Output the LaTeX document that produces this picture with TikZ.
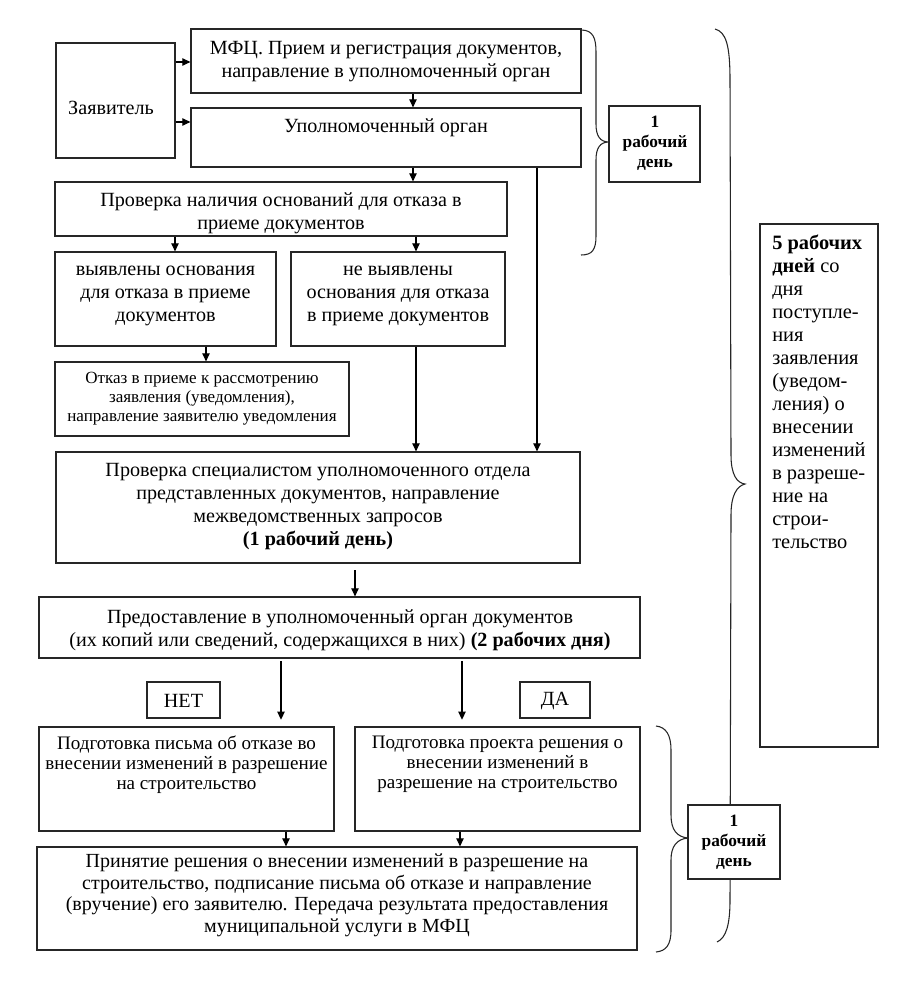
\documentclass[tikz,border=0pt]{standalone}
\usepackage{fontspec}
\setmainfont{Liberation Serif}
\usetikzlibrary{fit,arrows.meta}
\newcommand\mainsz{\fontsize{15.1}{17.3}\selectfont}
\newcommand\smallsz{\fontsize{12.8}{14.3}\selectfont}
\newcommand\podgsz{\fontsize{14.3}{15}\selectfont}
\newcommand\prinsz{\fontsize{15}{16.1}\selectfont}
\newcommand\daysz{\fontsize{13}{15}\selectfont\bfseries}
\newcommand\fivesz{\fontsize{15.3}{17.25}\selectfont}
\begin{document}
\begin{tikzpicture}[x=0.75pt,y=-0.75pt]
\tikzset{
 box/.style={draw=black!85, line width=0.9pt, fill=white, inner sep=0pt},
 arr/.style={draw=black, line width=0.8pt, -{Triangle[length=6pt,width=5.5pt]}},
 txt/.style={inner sep=0pt, align=center},
 brace/.style={draw=black!85, line width=0.8pt},
}
\useasboundingbox[fill=white] (0,0) rectangle (905,991);

% braces
\draw[brace] (581,30) .. controls (593,30) and (596,38) .. (596,52) -- (596,124) .. controls (596,136) and (600,142) .. (609,142) .. controls (600,142) and (596,148) .. (596,160) -- (596,236) .. controls (596,250) and (592,255) .. (581,255);
\draw[brace] (715,29) .. controls (726,32) and (730,45) .. (730,80) -- (731,455) .. controls (731,475) and (737,483) .. (745,484) .. controls (737,486) and (731,495) .. (731,515) -- (730,900) .. controls (730,925) and (726,938) .. (717,942);
\draw[brace] (656,726) .. controls (666,727) and (671,735) .. (671,750) -- (671,815) .. controls (671,830) and (677,837) .. (688,838) .. controls (677,839) and (671,846) .. (671,860) -- (671,930) .. controls (671,945) and (666,951) .. (656,952);

% boxes
\node[box, fit={(56,43) (175,158)}] (zay) {};
\node[box, fit={(191,29) (581,93)}] (mfc) {};
\node[box, fit={(191,108) (581,167)}] (upo) {};
\node[box, fit={(55,182) (507,236)}] (prov) {};
\node[box, fit={(55,252) (276,346)}] (vyy) {};
\node[box, fit={(291,252) (505,346)}] (nevyy) {};
\node[box, fit={(55,362) (349,436)}] (otkaz) {};
\node[box, fit={(56,452) (580,563)}] (spec) {};
\node[box, fit={(39,597) (640,658)}] (pred) {};
\node[box, fit={(147,682) (220,718)}] (net) {};
\node[box, fit={(520,682) (590,718)}] (da) {};
\node[box, fit={(39,727) (334,831)}] (podga) {};
\node[box, fit={(355,727) (640,831)}] (podgb) {};
\node[box, fit={(37,847) (637,950)}] (prin) {};
\node[box, fit={(609,106) (700,182)}] (daya) {};
\node[box, fit={(760,224) (878,747)}] (five) {};
\node[box, fit={(688,805) (780,879)}] (dayb) {};

% texts
\node[txt, font=\mainsz] (zayt) at (111,108) {Заявитель};
\node[txt, font=\mainsz] (mfct) at (386,62) {МФЦ. Прием и регистрация документов,\\направление в уполномоченный орган};
\node[txt, font=\mainsz] (upot) at (386,128) {Уполномоченный орган};
\node[txt, font=\mainsz] (provt) at (281,213) {Проверка наличия оснований для отказа в\\приеме документов};
\node[txt, font=\mainsz] (vyyt) at (165.5,296) {выявлены основания\\для отказа в приеме\\документов};
\node[txt, font=\mainsz] (nevyyt) at (398,296) {не выявлены\\основания для отказа\\в приеме документов};
\node[txt, font=\smallsz] (otkazt) at (202,399) {Отказ в приеме к рассмотрению\\заявления (уведомления),\\направление заявителю уведомления};
\node[txt, font=\mainsz] (spect) at (318,506.5) {Проверка специалистом уполномоченного отдела\\представленных документов, направление\\межведомственных запросов\\\textbf{(1 рабочий день)}};
\node[txt, font=\mainsz] (predt) at (340,630) {Предоставление в уполномоченный орган документов\\(их копий или сведений, содержащихся в них) \textbf{(2 рабочих дня)}};
\node[txt, font=\mainsz] (nett) at (183.5,701) {НЕТ};
\node[txt, font=\mainsz] (dat) at (555,701) {ДА};
\node[txt, font=\podgsz] (podgat) at (186.5,764.5) {Подготовка письма об отказе во\\внесении изменений в разрешение\\на строительство};
\node[txt, font=\podgsz] (podgbt) at (497.5,764.5) {Подготовка проекта решения о\\внесении изменений в\\разрешение на строительство};
\node[txt, font=\prinsz] (print) at (337,895.5) {Принятие решения о внесении изменений в разрешение на\\строительство, подписание письма об отказе и направление\\(вручение) его заявителю. Передача результата предоставления\\муниципальной услуги в МФЦ};
\node[txt, font=\daysz] (dayat) at (655,143) {1\\рабочий\\день};
\node[txt, font=\fivesz, align=left, anchor=west] (fivet) at (772,392) {\textbf{5 рабочих}\\\textbf{дней} со\\дня\\поступле-\\ния\\заявления\\(уведом-\\ления) о\\внесении\\изменений\\в разреше-\\ние на\\строи-\\тельство};
\node[txt, font=\daysz] (daybt) at (734,842) {1\\рабочий\\день};

% helper coordinates
\coordinate (ya) at (0,62);
\coordinate (yb) at (0,122);
\coordinate (xa) at (413,0);
\coordinate (xr) at (537,0);
\coordinate (xb) at (175,0);
\coordinate (xc) at (416,0);
\coordinate (xd) at (206,0);
\coordinate (xe) at (355,0);
\coordinate (xf) at (281,0);
\coordinate (xg) at (462,0);
\coordinate (xh) at (286,0);
\coordinate (xi) at (460,0);

% connectors
\draw[arr] (zay.east|-ya) -- (mfc.west|-ya);
\draw[arr] (zay.east|-yb) -- (upo.west|-yb);
\draw[arr] (mfc.south-|xa) -- (upo.north-|xa);
\draw[arr] (upo.south-|xa) -- (prov.north-|xa);
\draw[arr] (upo.south-|xr) -- (spec.north-|xr);
\draw[arr] (prov.south-|xb) -- (vyy.north-|xb);
\draw[arr] (prov.south-|xc) -- (nevyy.north-|xc);
\draw[arr] (vyy.south-|xd) -- (otkaz.north-|xd);
\draw[arr] (nevyy.south-|xc) -- (spec.north-|xc);
\draw[arr, shorten <=5pt] (spec.south-|xe) -- (pred.north-|xe);
\draw[arr, shorten <=2pt, shorten >=5pt] (pred.south-|xf) -- (podga.north-|xf);
\draw[arr, shorten <=2pt, shorten >=5pt] (pred.south-|xg) -- (podgb.north-|xg);
\draw[arr] (podga.south-|xh) -- (prin.north-|xh);
\draw[arr] (podgb.south-|xi) -- (prin.north-|xi);
\end{tikzpicture}
\end{document}
